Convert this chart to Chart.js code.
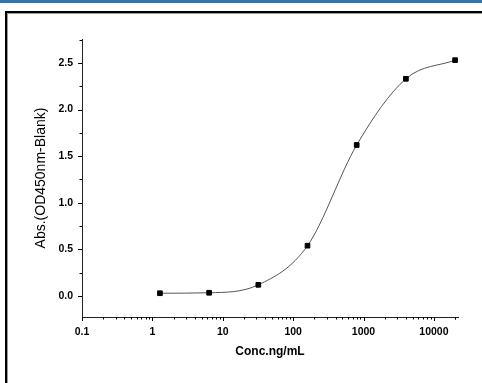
<!DOCTYPE html>
<html>
<head>
<meta charset="utf-8">
<script src="https://cdn.jsdelivr.net/npm/chart.js@4.4.1/dist/chart.umd.min.js"></script>
<style>
  html, body { margin: 0; padding: 0; background: #fff; overflow: hidden; }
  #wrap { position: relative; width: 482px; height: 383px; overflow: hidden; background: #fff; }
  #topbar { position: absolute; left: 0; top: 0; width: 482px; height: 3px; background: #2e75b6; }
  #frame { position: absolute; left: 5px; top: 11px; width: 520px; height: 420px;
           border-left: 2px solid #000; border-top: 2px solid #000;
           box-shadow: inset 1px 1px 0 #999; }
  canvas { position: absolute; left: 0; top: 0; }
</style>
</head>
<body>
<div id="wrap">
  <div id="topbar"></div>
  <div id="frame"></div>
  <canvas id="c" width="482" height="383"></canvas>
</div>
<script>
// ---- data ----
const concentrations = [1.28, 6.4, 32, 160, 800, 4000, 20000];
const absorbance = [0.03, 0.035, 0.12, 0.54, 1.62, 2.33, 2.53];
const xTickLabels = ['0.1', '1', '10', '100', '1000', '10000'];
const yTickLabels = ['0.0', '0.5', '1.0', '1.5', '2.0', '2.5'];
const xAxisTitle = 'Conc.ng/mL';
const yAxisTitle = 'Abs.(OD450nm-Blank)';

const points = concentrations.map((c, i) => ({ x: c, y: absorbance[i] }));

function matchLabel(list, value) {
  const i = list.findIndex(l => Math.abs(parseFloat(l) - value) < 1e-9 * Math.max(1, Math.abs(value)));
  return i >= 0 ? list[i] : '';
}

const tickFont = { family: '"Liberation Sans", Arial, sans-serif', size: 10.5, weight: 'bold' };

const tickMarks = {
  id: 'tickMarks',
  afterDraw(chart) {
    const ctx = chart.ctx;
    ctx.save();
    ctx.strokeStyle = '#000';
    ctx.lineWidth = 1;
    const xs = chart.scales.x, ys = chart.scales.y;
    const bottom = chart.chartArea.bottom, left = chart.chartArea.left;
    xs.ticks.forEach(t => {
      const px = Math.round(xs.getPixelForValue(t.value)) + 0.5;
      const len = matchLabel(xTickLabels, t.value) ? 4 : 2.5;
      ctx.beginPath();
      ctx.moveTo(px, bottom);
      ctx.lineTo(px, bottom + len);
      ctx.stroke();
    });
    ys.ticks.forEach(t => {
      const py = Math.round(ys.getPixelForValue(t.value)) + 0.5;
      const len = matchLabel(yTickLabels, t.value) ? 4 : 2.5;
      ctx.beginPath();
      ctx.moveTo(left, py);
      ctx.lineTo(left - len, py);
      ctx.stroke();
    });
    ctx.restore();
  }
};

new Chart(document.getElementById('c'), {
  type: 'scatter',
  data: {
    datasets: [{
      data: points,
      showLine: true,
      cubicInterpolationMode: 'monotone',
      borderColor: '#555',
      borderWidth: 1,
      pointStyle: 'rect',
      pointRadius: 3.3,
      pointBorderWidth: 1,
      pointBackgroundColor: '#000',
      pointBorderColor: '#000',
      clip: false
    }]
  },
  options: {
    responsive: false,
    animation: false,
    events: [],
    layout: { padding: { top: 39, right: 24, left: 0, bottom: 0 } },
    plugins: { legend: { display: false }, tooltip: { enabled: false } },
    scales: {
      x: {
        type: 'logarithmic',
        min: 0.1,
        max: 22000,
        afterFit(s) { s.height = 66; },
        afterBuildTicks(s) {
          const t = [];
          for (let e = -1; e <= 4; e++) {
            for (let m = 1; m <= 9; m++) {
              const v = parseFloat((m * Math.pow(10, e)).toPrecision(6));
              if (v >= 0.1 && v <= 22000) t.push({ value: v });
            }
          }
          t.push({ value: 20000 });
          s.ticks = t;
        },
        grid: { display: false, drawTicks: true, tickLength: 4 },
        border: { display: true, color: '#222', width: 1 },
        ticks: {
          autoSkip: false,
          maxRotation: 0,
          padding: 5,
          color: '#000',
          font: tickFont,
          callback: (v) => matchLabel(xTickLabels, v)
        },
        title: {
          display: true,
          text: xAxisTitle,
          color: '#000',
          font: { family: '"Liberation Sans", Arial, sans-serif', size: 12, weight: 'bold' },
          padding: { top: 0, bottom: 24 }
        }
      },
      y: {
        type: 'linear',
        min: -0.225,
        max: 2.757,
        afterFit(s) { s.width = 82; },
        afterBuildTicks(s) {
          const t = [];
          for (let k = 0; k <= 11; k++) t.push({ value: k / 4 });
          s.ticks = t;
        },
        grid: { display: false, drawTicks: true, tickLength: 4 },
        border: { display: true, color: '#222', width: 1 },
        ticks: {
          autoSkip: false,
          padding: 5,
          color: '#000',
          font: tickFont,
          callback: (v) => matchLabel(yTickLabels, v)
        },
        title: {
          display: true,
          text: yAxisTitle,
          color: '#000',
          font: { family: '"Liberation Sans", Arial, sans-serif', size: 14, weight: 'normal' },
          padding: { top: 33, bottom: 0 }
        }
      }
    }
  },
  plugins: [tickMarks]
});
</script>
</body>
</html>
